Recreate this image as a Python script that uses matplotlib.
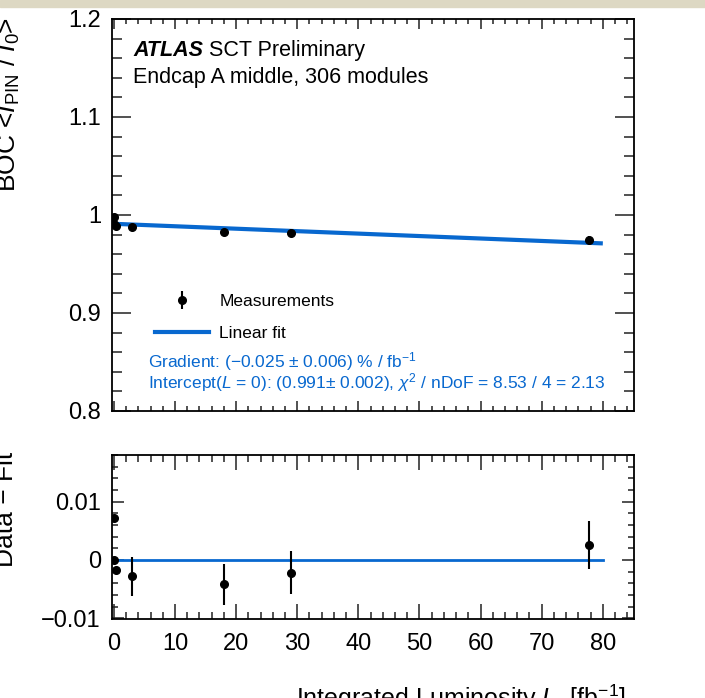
import numpy as np
import matplotlib
matplotlib.use("Agg")
import matplotlib.pyplot as plt
from matplotlib.lines import Line2D
from matplotlib.patches import Rectangle
from matplotlib.ticker import MultipleLocator, FuncFormatter

plt.rcParams['font.family'] = ['Liberation Sans', 'DejaVu Sans']
plt.rcParams['mathtext.fontset'] = 'custom'
plt.rcParams['mathtext.rm'] = 'Liberation Sans'
plt.rcParams['mathtext.it'] = 'Liberation Sans:italic'
plt.rcParams['mathtext.bf'] = 'Liberation Sans:bold'

# data
lumi = [0.0, 0.1, 0.3, 2.9, 18.1, 29.0, 77.8]
ratio = [0.9982, 0.9910, 0.9892, 0.9875, 0.9823, 0.9816, 0.9741]
resid = [0.0072, 0.0000, -0.0017, -0.0028, -0.0042, -0.0022, 0.0025]
err = [0.0005, 0.0005, 0.0005, 0.0033, 0.0035, 0.0037, 0.0041]

# fit parameters (from the box)
intercept = 0.991
gradient = -0.025 / 100.0
fit_range = [0.0, 80.0]

blue = '#0868cf'

fig = plt.figure(figsize=(7.05, 6.98), dpi=100)
fig.patches.append(Rectangle((0, 1 - 7 / 698), 1, 7 / 698, transform=fig.transFigure,
                             color='#ddd8c3', zorder=0))

ax1 = fig.add_axes([0.1589, 0.4112, 0.7404, 0.5616])
ax2 = fig.add_axes([0.1589, 0.1125, 0.7404, 0.2357])


def fmt(v, pos):
    if abs(v) < 1e-9:
        return '0'
    return f'{v:g}'.replace('-', '\u2212')


for ax in (ax1, ax2):
    ax.set_xlim(-0.3, 85.1)
    ax.xaxis.set_major_locator(MultipleLocator(10))
    ax.xaxis.set_minor_locator(MultipleLocator(2))
    ax.tick_params(which='both', direction='in', top=True, right=True,
                   width=1.1, labelsize=17, color='#222222')
    for s in ax.spines.values():
        s.set_linewidth(1.3)
    ax.yaxis.set_major_formatter(FuncFormatter(fmt))
    ax.xaxis.set_major_formatter(FuncFormatter(fmt))

# upper panel
ax1.set_ylim(0.8, 1.2)
ax1.yaxis.set_major_locator(MultipleLocator(0.1))
ax1.yaxis.set_minor_locator(MultipleLocator(0.02))
ax1.tick_params(axis='x', which='major', length=7.5, labelbottom=False)
ax1.tick_params(axis='x', which='minor', length=3.8)
ax1.tick_params(axis='y', which='major', length=14, pad=8)
ax1.tick_params(axis='y', which='minor', length=7)

fit_y = [intercept + gradient * x for x in fit_range]
ax1.plot(fit_range, fit_y, color=blue, lw=3, solid_capstyle='butt', zorder=2)
eb = ax1.errorbar(lumi, ratio, yerr=err, fmt='o', color='black', ms=5.5,
                  elinewidth=1.5, capsize=0, zorder=3)

fit_handle = Line2D([], [], color=blue, lw=3)
ax1.legend([eb, fit_handle], ['Measurements', 'Linear fit'], loc='upper left',
           bbox_to_anchor=(0.0824, 0.299), frameon=False, fontsize=12.5,
           handlelength=3.1, handletextpad=0.6, labelspacing=0.98, borderpad=0,
           borderaxespad=0)

atl = ax1.text(0.0402, 0.892, 'ATLAS', transform=ax1.transAxes, fontsize=15.5,
               fontweight='bold', fontstyle='italic', va='bottom', ha='left')
ax1.annotate(' SCT Preliminary', xy=(1, 0), xycoords=atl, fontsize=15.5,
             va='bottom', ha='left')
ax1.text(0.0402, 0.852, 'Endcap A middle, 306 modules', transform=ax1.transAxes,
         fontsize=15.5, va='center', ha='left')

ax1.text(0.069, 0.126, 'Gradient: (\u22120.025 $\\pm$ 0.006) % / fb$^{-1}$',
         transform=ax1.transAxes, fontsize=12.5, color=blue, va='center')
ax1.text(0.069, 0.0714,
         'Intercept($L$ = 0): (0.991$\\pm$ 0.002), $\\chi^{2}$ / nDoF = 8.53 / 4 = 2.13',
         transform=ax1.transAxes, fontsize=12.5, color=blue, va='center')

# lower panel
ax2.set_ylim(-0.0102, 0.018)
ax2.yaxis.set_major_locator(MultipleLocator(0.01))
ax2.yaxis.set_minor_locator(MultipleLocator(0.002))
ax2.tick_params(axis='x', which='major', length=11, pad=10)
ax2.tick_params(axis='x', which='minor', length=5)
ax2.tick_params(axis='y', which='major', length=8.5, pad=8)
ax2.tick_params(axis='y', which='minor', length=4.3)

ax2.plot(fit_range, [0, 0], color=blue, lw=2, zorder=2)
ax2.errorbar(lumi, resid, yerr=err, fmt='o', color='black', ms=5.5,
             elinewidth=1.5, capsize=0, zorder=3)

# axis titles (partly cut by the screenshot edges)
fig.text(8 / 705, 1 - 17 / 698, 'BOC <$I_{\\mathrm{PIN}}$ / $I_{0}$>', rotation=90,
         ha='center', va='top', fontsize=19)
fig.text(6 / 705, 1 - 452 / 698, 'Data \u2212 Fit', rotation=90,
         ha='center', va='top', fontsize=19)
fig.text(626 / 705, 1 - 683 / 698, 'Integrated Luminosity $L$  [fb$^{-1}$]',
         ha='right', va='top', fontsize=18)

fig.savefig('out.png', dpi=100)
